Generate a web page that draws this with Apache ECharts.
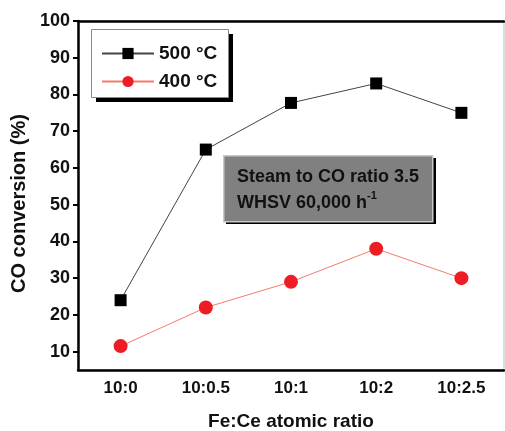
<!DOCTYPE html>
<html><head><meta charset="utf-8">
<script src="https://cdn.jsdelivr.net/npm/echarts@6/dist/echarts.min.js"></script>
<style>html,body{margin:0;padding:0;background:#fff}#c{width:505px;height:431px}</style>
</head><body><div id="c"></div>
<script>
const categories = ['10:0', '10:0.5', '10:1', '10:2', '10:2.5'];
const series500 = [24, 65, 77.7, 83, 75];
const series400 = [11.5, 22, 29, 38, 30];
const yTicks = [10, 20, 30, 40, 50, 60, 70, 80, 90, 100];
const legendNames = ['500 \u00B0C', '400 \u00B0C'];

const font = 'Liberation Sans, Arial, Helvetica, sans-serif';
const chart = echarts.init(document.getElementById('c'), null, {renderer: 'canvas'});
chart.setOption({
  animation: false,
  backgroundColor: '#fff',
  grid: {left: 78, right: 1, top: 21, bottom: 61, show: true, borderColor: '#bbb', borderWidth: 1,
         backgroundColor: 'transparent', containLabel: false, outerBoundsMode: 'none'},
  xAxis: [{
    type: 'category', data: categories, boundaryGap: true,
    axisLine: {lineStyle: {color: '#000', width: 2.5}},
    axisTick: {alignWithLabel: true, length: 5, lineStyle: {color: '#000', width: 2}},
    axisLabel: {color: '#111', fontSize: 17, fontWeight: 'bold', fontFamily: font, margin: 10},
    name: 'Fe:Ce atomic ratio', nameLocation: 'middle', nameGap: 42,
    nameTextStyle: {color: '#111', fontSize: 19, fontWeight: 'bold', fontFamily: font},
    splitLine: {show: false}
  }, {
    type: 'category', data: categories, position: 'top',
    axisLine: {lineStyle: {color: '#000', width: 2.5}},
    axisTick: {show: false}, axisLabel: {show: false}, splitLine: {show: false}
  }],
  yAxis: {
    type: 'value', min: 5, max: 100, interval: 10,
    axisLine: {show: true, lineStyle: {color: '#000', width: 2.5}},
    axisTick: {show: true, length: 5, customValues: yTicks, lineStyle: {color: '#000', width: 2}},
    axisLabel: {customValues: yTicks, color: '#111', fontSize: 18, fontWeight: 'bold', fontFamily: font, margin: 8},
    splitLine: {show: false},
    name: 'CO conversion (%)', nameLocation: 'middle', nameGap: 43, nameRotate: 90,
    nameTextStyle: {color: '#111', fontSize: 20, fontWeight: 'bold', fontFamily: font, padding: [0, 16, 0, 0]}
  },
  legend: {
    orient: 'vertical', left: 101, top: 44, padding: 0, itemWidth: 52, itemHeight: 14, itemGap: 9,
    data: legendNames,
    textStyle: {color: '#111', fontSize: 19, fontWeight: 'bold', fontFamily: font},
    selectedMode: false
  },
  graphic: [
    {type: 'rect', left: 96, top: 34, shape: {width: 137, height: 68}, style: {fill: '#000'}, z: 0},
    {type: 'rect', left: 91, top: 29, shape: {width: 137, height: 68}, style: {fill: '#fff', stroke: '#888', lineWidth: 1}, z: 1},
    {type: 'rect', left: 226, top: 158, shape: {width: 210, height: 66}, style: {fill: '#000'}, z: 1},
    {type: 'rect', left: 223, top: 155, shape: {width: 209, height: 66}, style: {fill: '#808080', stroke: '#c8c8c8', lineWidth: 1.5}, z: 2},
    {type: 'text', left: 237, top: 164, z: 3, style: {
      text: 'Steam to CO ratio 3.5\nWHSV 60,000 h{sup|-1}',
      fill: '#111', font: 'bold 18px ' + font, lineHeight: 26,
      rich: {sup: {fontSize: 11, fontWeight: 'bold', fontFamily: font, verticalAlign: 'top', padding: [0,0,10,0], fill: '#111'}}
    }}
  ],
  series: [
    {name: legendNames[0], type: 'line', data: series500, symbol: 'rect', symbolSize: 12,
     itemStyle: {color: '#000'}, lineStyle: {color: '#444', width: 1}, z: 5},
    {name: legendNames[1], type: 'line', data: series400, symbol: 'circle', symbolSize: 14,
     itemStyle: {color: '#ee1c24'}, lineStyle: {color: '#f47c6a', width: 1}, z: 5}
  ]
});
</script></body></html>
